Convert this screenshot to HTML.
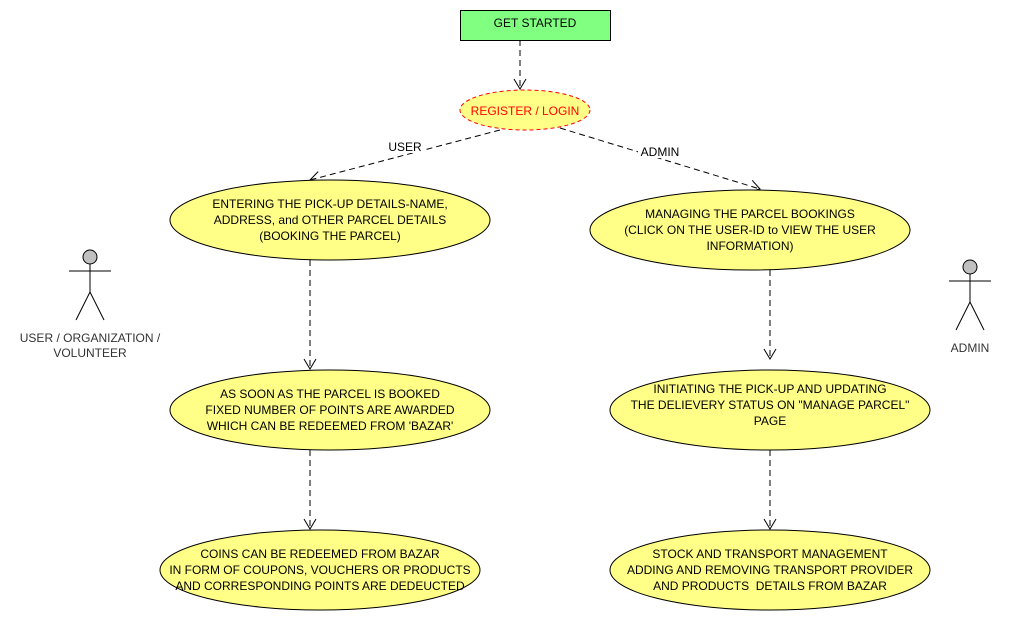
<!DOCTYPE html>
<html><head><style>body{margin:0;background:#fff}svg{display:block}text{font-family:"Liberation Sans",sans-serif;font-size:12px;fill:#000;text-anchor:middle}</style></head>
<body>
<svg width="1010" height="620" viewBox="0 0 1010 620">
<defs><marker id="a" markerWidth="14" markerHeight="14" refX="12" refY="7" orient="auto" markerUnits="userSpaceOnUse"><path d="M2,1 L12,7 L2,13" fill="none" stroke="#000" stroke-width="1"/></marker></defs>
<g stroke="#000" stroke-width="1" stroke-dasharray="6,4" fill="none" marker-end="url(#a)">
<line x1="520" y1="40" x2="520" y2="89"/>
<line x1="500" y1="130" x2="310" y2="180"/>
<line x1="560" y1="128" x2="760" y2="189"/>
<line x1="310" y1="260" x2="310" y2="369"/>
<line x1="310" y1="450" x2="310" y2="529"/>
<line x1="770" y1="270" x2="770" y2="359"/>
<line x1="770" y1="450" x2="770" y2="529"/>
</g>
<rect x="460.5" y="10.5" width="150" height="30" fill="#80ff80" stroke="#000"/>
<text x="535" y="27">GET STARTED</text>
<ellipse cx="525" cy="110" rx="65" ry="20" fill="#ffff88" stroke="#ff0000" stroke-dasharray="4,3"/>
<text x="525" y="115" style="fill:#ff0000">REGISTER / LOGIN</text>
<rect x="385" y="139" width="40" height="14" fill="#fff"/><text x="405" y="151">USER</text>
<rect x="638" y="144" width="44" height="14" fill="#fff"/><text x="660" y="156">ADMIN</text>
<g fill="#ffff88" stroke="#000">
<ellipse cx="330" cy="220" rx="160" ry="40"/>
<ellipse cx="330" cy="410" rx="160" ry="40"/>
<ellipse cx="320" cy="570" rx="160" ry="40"/>
<ellipse cx="750" cy="230" rx="160" ry="40"/>
<ellipse cx="770" cy="410" rx="160" ry="40"/>
<ellipse cx="770" cy="570" rx="160" ry="40"/>
</g>
<text x="330" y="208">ENTERING THE PICK-UP DETAILS-NAME,</text>
<text x="330" y="224">ADDRESS, and OTHER PARCEL DETAILS</text>
<text x="330" y="240">(BOOKING THE PARCEL)</text>
<text x="330" y="398">AS SOON AS THE PARCEL IS BOOKED</text>
<text x="330" y="414">FIXED NUMBER OF POINTS ARE AWARDED</text>
<text x="330" y="430">WHICH CAN BE REDEEMED FROM 'BAZAR'</text>
<text x="320" y="558">COINS CAN BE REDEEMED FROM BAZAR</text>
<text x="320" y="574">IN FORM OF COUPONS, VOUCHERS OR PRODUCTS</text>
<text x="320" y="590">AND CORRESPONDING POINTS ARE DEDEUCTED</text>
<text x="750" y="218">MANAGING THE PARCEL BOOKINGS</text>
<text x="750" y="234">(CLICK ON THE USER-ID to VIEW THE USER</text>
<text x="750" y="250">INFORMATION)</text>
<text x="770" y="393">INITIATING THE PICK-UP AND UPDATING</text>
<text x="770" y="409">THE DELIEVERY STATUS ON "MANAGE PARCEL"</text>
<text x="770" y="425">PAGE</text>
<text x="770" y="558">STOCK AND TRANSPORT MANAGEMENT</text>
<text x="770" y="574">ADDING AND REMOVING TRANSPORT PROVIDER</text>
<text x="770" y="590">AND PRODUCTS&#160; DETAILS FROM BAZAR</text>
<g stroke="#000" fill="none">
<circle cx="90" cy="257" r="7" fill="#c0c0c0"/>
<line x1="90" y1="264" x2="90" y2="292"/><line x1="69" y1="271" x2="111" y2="271"/>
<path d="M76,320 L90,292 L104,320"/>
<circle cx="970" cy="267" r="7" fill="#c0c0c0"/>
<line x1="970" y1="274" x2="970" y2="302"/><line x1="949" y1="281" x2="991" y2="281"/>
<path d="M956,330 L970,302 L984,330"/>
</g>
<text x="90" y="342" style="fill:#333">USER / ORGANIZATION /</text>
<text x="90" y="357" style="fill:#333">VOLUNTEER</text>
<text x="970" y="352" style="fill:#333">ADMIN</text>
</svg>
</body></html>
